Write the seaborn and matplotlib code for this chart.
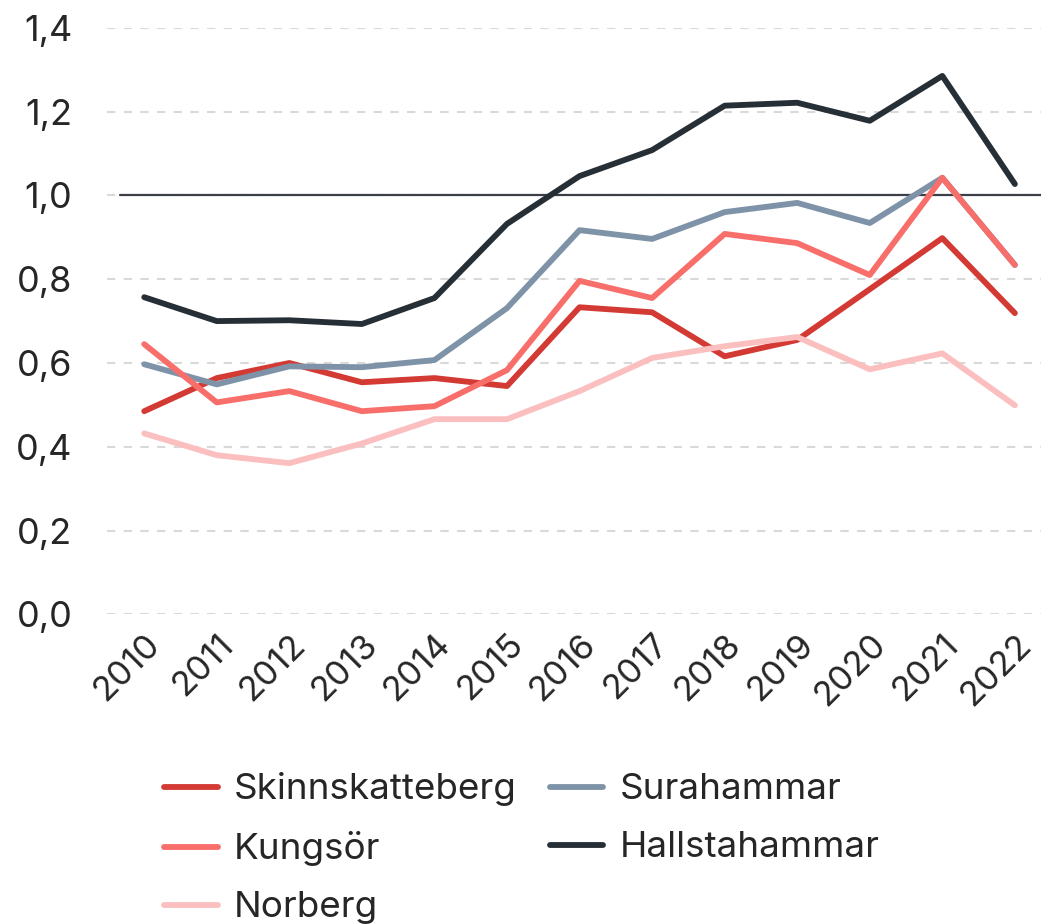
import numpy as np
import pandas as pd
import seaborn as sns
import matplotlib.pyplot as plt

years = list(range(2010, 2023))

skinnskatteberg = [0.485, 0.564, 0.600, 0.554, 0.564, 0.545, 0.733, 0.721, 0.616, 0.655, 0.776, 0.898, 0.719]
surahammar = [0.597, 0.549, 0.592, 0.590, 0.607, 0.731, 0.917, 0.896, 0.960, 0.982, 0.934, 1.042, 0.834]
kungsor = [0.645, 0.506, 0.533, 0.485, 0.497, 0.583, 0.796, 0.755, 0.908, 0.886, 0.810, 1.042, 0.834]
hallstahammar = [0.757, 0.700, 0.702, 0.693, 0.755, 0.932, 1.046, 1.108, 1.214, 1.221, 1.178, 1.285, 1.027]
norberg = [0.432, 0.380, 0.361, 0.408, 0.466, 0.466, 0.533, 0.612, 0.640, 0.662, 0.585, 0.623, 0.499]

series = {
    "Skinnskatteberg": skinnskatteberg,
    "Surahammar": surahammar,
    "Kungsör": kungsor,
    "Hallstahammar": hallstahammar,
    "Norberg": norberg,
}
colors = {
    "Skinnskatteberg": "#d33a33",
    "Surahammar": "#7f93a8",
    "Kungsör": "#f86e6a",
    "Hallstahammar": "#262e36",
    "Norberg": "#fbbfbf",
}

rows = []
for name, vals in series.items():
    for y, v in zip(years, vals):
        rows.append({"year": y, "value": v, "kommun": name})
df = pd.DataFrame(rows)

sns.set_style("white")
plt.rcParams["font.family"] = ["Inter", "DejaVu Sans"]

fig, ax = plt.subplots(figsize=(10.41, 9.24), dpi=100)
fig.subplots_adjust(left=0.103, right=1.0, top=0.97, bottom=0.335)

for y in np.arange(0, 1.41, 0.2):
    ax.axhline(y, color="#d9d9d9", lw=1.5, ls=(0, (4, 4)), zorder=0)
ax.axhline(1.0, color="#3a3f47", lw=1.6, xmin=0.014, zorder=1)

sns.lineplot(data=df, x="year", y="value", hue="kommun", palette=colors,
             hue_order=list(series.keys()), linewidth=4.2, ax=ax, legend=True)

ax.set_xlim(2009.49, 2022.36)
ax.set_ylim(0, 1.4)
ax.set_xticks(years)
ax.set_xticklabels([str(y) for y in years], rotation=45, ha="right",
                   rotation_mode="anchor", fontsize=25)
ax.set_yticks(np.arange(0, 1.41, 0.2))
ax.set_yticklabels([f"{v:.1f}".replace(".", ",") for v in np.arange(0, 1.41, 0.2)], fontsize=26)
ax.tick_params(axis="both", length=0, pad=10)
ax.tick_params(axis="y", pad=25)
ax.set_xlabel("")
ax.set_ylabel("")
sns.despine(ax=ax, left=True, bottom=True)

handles, labels = ax.get_legend_handles_labels()
lookup = dict(zip(labels, handles))
order = ["Skinnskatteberg", "Kungsör", "Norberg", "Surahammar", "Hallstahammar"]
for h in handles:
    h.set_linewidth(4.2)
ax.get_legend().remove()
fig.legend([lookup[k] for k in order], order, loc="upper left",
           bbox_to_anchor=(0.14, 0.184), ncol=2, frameon=False, fontsize=26.5,
           handlelength=1.45, borderpad=0, columnspacing=0.9,
           labelspacing=0.68, handletextpad=0.45)

fig.savefig("out.png", dpi=100)
